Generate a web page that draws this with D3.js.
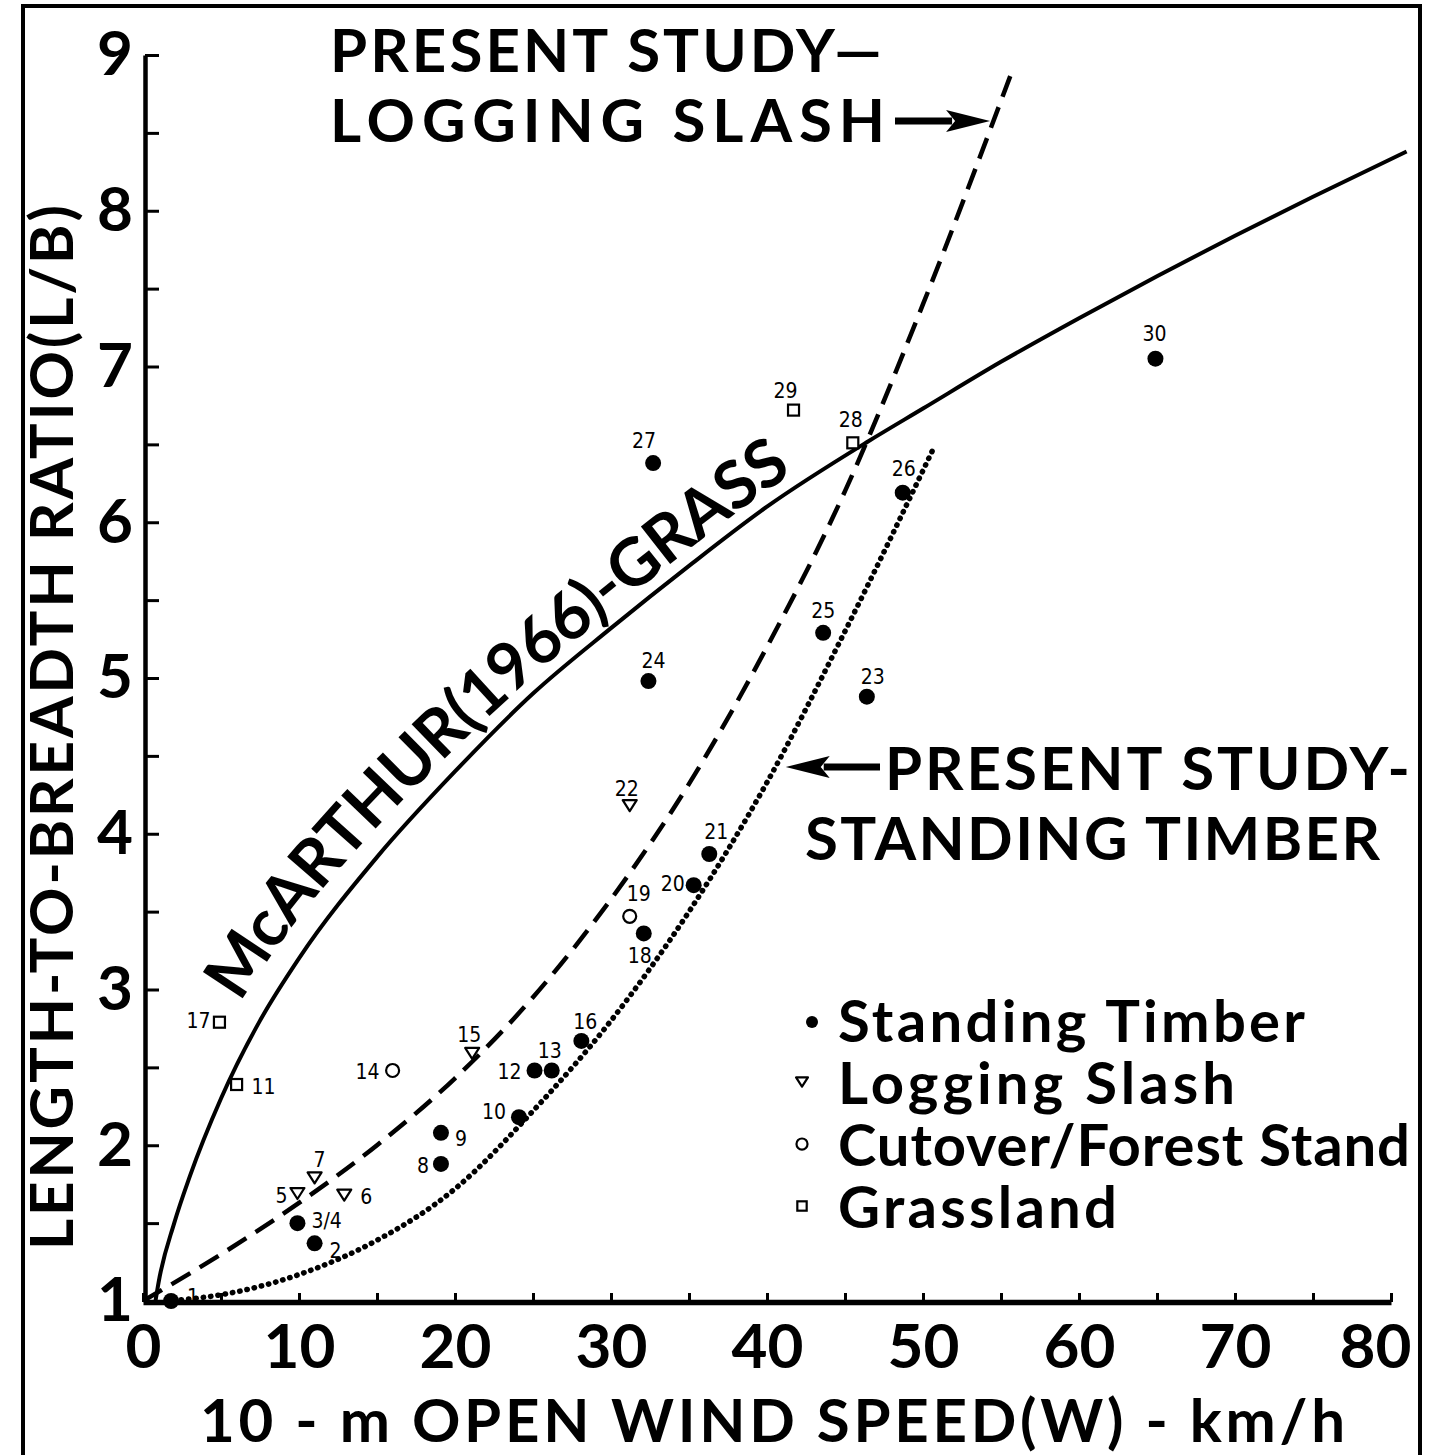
<!DOCTYPE html>
<html>
<head>
<meta charset="utf-8">
<script src="https://cdn.jsdelivr.net/npm/d3@7"></script>
<style>
  body { margin: 0; background: #fff; }
</style>
</head>
<body>
<div id="chart"></div>
<script>
// observed fires (number, open wind speed km/h, L/B, fuel type)
const fireIds = ["1","2","3/4","5","6","7","8","9","10","11","12","13","14","15","16","17","18","19","20","21","22","23","24","25","26","27","28","29","30"];
const fireWind = [1.8,11.0,9.9,9.9,12.9,11.0,19.1,19.1,24.1,6.0,25.1,26.2,16.0,21.1,28.1,4.9,32.1,31.2,35.3,36.3,31.2,46.4,32.4,43.6,48.7,32.7,45.5,41.7,64.9];
const fireLB = [1.0,1.37,1.5,1.69,1.68,1.79,1.88,2.08,2.18,2.39,2.48,2.48,2.48,2.59,2.67,2.79,3.36,3.47,3.67,3.87,4.18,4.88,4.98,5.29,6.19,6.38,6.51,6.72,7.05];
const fireType = ["timber","timber","timber","slash","slash","slash","timber","timber","timber","grass","timber","timber","cutover","slash","timber","grass","timber","cutover","timber","timber","slash","timber","timber","timber","timber","timber","grass","grass","timber"];

// McArthur (1966) grass curve
const grassW  = [0.8,1,2,3,5,7.5,10,15,20,25,30,35,40,46.5,50,55,60,65,70,75,81];
const grassLB = [1.0,1.12,1.5,1.8,2.3,2.8,3.2,3.85,4.4,4.9,5.32,5.72,6.1,6.52,6.73,7.03,7.31,7.58,7.84,8.09,8.38];

// present study - logging slash (dashed)
const slashW  = [0,5,10,15,20,25,30,35,40,45,50,55.8];
const slashLB = [1,1.3,1.63,2.0,2.43,2.95,3.58,4.32,5.2,6.2,7.4,8.92];

// present study - standing timber (dotted)
const timberW  = [1.5,5,10,15,20,25,30,35,40,45,50.7];
const timberLB = [1.0,1.04,1.17,1.39,1.72,2.22,2.8,3.5,4.33,5.3,6.48];

const legendLabels = ["Standing Timber","Logging Slash","Cutover/Forest Stand","Grassland"];
const legendTypes = ["timber","slash","cutover","grass"];

const xTicks = [0,5,10,15,20,25,30,35,40,45,50,55,60,65,70,75,80];
const yTicks = [1,1.5,2,2.5,3,3.5,4,4.5,5,5.5,6,6.5,7,7.5,8,8.5,9];

const FONT = "Lato, 'DejaVu Sans', sans-serif";
const SMALL = "'DejaVu Sans Condensed', 'DejaVu Sans', sans-serif";

const width = 1437, height = 1455;
const x = d3.scaleLinear().domain([0, 80]).range([143, 1391]);
const y = d3.scaleLinear().domain([1, 9]).range([1301, 55]);

const svg = d3.select("#chart").append("svg")
  .attr("width", width)
  .attr("height", height)
  .style("background", "#fff");

// outer frame
svg.append("rect")
  .attr("x", 23).attr("y", 6)
  .attr("width", 1397).attr("height", 1480)
  .attr("fill", "none").attr("stroke", "#000").attr("stroke-width", 4);

// ---- curves ----
const line = d3.line().x(d => x(d[0])).y(d => y(d[1])).curve(d3.curveMonotoneX);

const grassPts = grassW.map((w, i) => [w, grassLB[i]]);
const slashPts = slashW.map((w, i) => [w, slashLB[i]]);
const timberPts = timberW.map((w, i) => [w, timberLB[i]]);

const grassPath = svg.append("path")
  .attr("d", line(grassPts))
  .attr("fill", "none").attr("stroke", "#000").attr("stroke-width", 4);

svg.append("path")
  .attr("d", line(slashPts))
  .attr("fill", "none").attr("stroke", "#000").attr("stroke-width", 4.5)
  .attr("stroke-dasharray", "22,11");

svg.append("path")
  .attr("d", line(timberPts))
  .attr("fill", "none").attr("stroke", "#000").attr("stroke-width", 5.5)
  .attr("stroke-linecap", "round")
  .attr("stroke-dasharray", "0.4,7");

// text along McArthur curve, offset to the upper-left side
const gNode = grassPath.node();
const total = gNode.getTotalLength();
const offPts = [];
for (let l = 0; l <= total; l += 3) {
  const p = gNode.getPointAtLength(l);
  const q = gNode.getPointAtLength(Math.min(total, l + 2));
  const r = gNode.getPointAtLength(Math.max(0, l - 2));
  let tx = q.x - r.x, ty = q.y - r.y;
  const n = Math.hypot(tx, ty) || 1;
  tx /= n; ty /= n;
  const off = 13 + 13 * Math.max(0, Math.min(1, (520 - p.x) / 260));
  offPts.push([p.x + off * ty, p.y - off * tx]);
}
let acc = 0, startLen = null, endLen = null;
for (let i = 1; i < offPts.length; i++) {
  acc += Math.hypot(offPts[i][0] - offPts[i-1][0], offPts[i][1] - offPts[i-1][1]);
  if (startLen === null && offPts[i][1] <= 1004) startLen = acc;
  if (endLen === null && offPts[i][0] >= 792) endLen = acc;
}
svg.append("defs").append("path")
  .attr("id", "mcPath")
  .attr("d", d3.line()(offPts));

svg.append("text")
  .attr("font-family", FONT).attr("font-size", 66).attr("font-weight", 700)
  .append("textPath")
  .attr("href", "#mcPath")
  .attr("startOffset", startLen)
  .attr("textLength", endLen - startLen)
  .attr("lengthAdjust", "spacing")
  .text("McARTHUR(1966)-GRASS");

// ---- observed points ----
const labelPlace = {
  "1": [16, -4, "start"], "2": [15, 8, "start"], "3/4": [14, -2, "start"],
  "5": [-10, 2, "end"], "6": [16, 2, "start"], "7": [5, -18, "middle"],
  "8": [-12, 2, "end"], "9": [14, 6, "start"], "10": [-13, -5, "end"],
  "11": [15, 2, "start"], "12": [-13, 2, "end"], "13": [-2, -19, "middle"],
  "14": [-13, 2, "end"], "15": [-3, -18, "middle"], "16": [4, -19, "middle"],
  "17": [-9, -1, "end"], "18": [-4, 23, "middle"], "19": [9, -22, "middle"],
  "20": [-9, -1, "end"], "21": [7, -22, "middle"], "22": [-3, -17, "middle"],
  "23": [6, -20, "middle"], "24": [5, -20, "middle"], "25": [0, -22, "middle"],
  "26": [1, -24, "middle"], "27": [-9, -22, "middle"], "28": [-2, -23, "middle"],
  "29": [-8, -19, "middle"], "30": [-1, -25, "middle"]
};

function drawSymbol(g, type, cx, cy, s) {
  if (type === "timber") {
    g.append("circle").attr("cx", cx).attr("cy", cy).attr("r", 8 * s).attr("fill", "#000");
  } else if (type === "cutover") {
    g.append("circle").attr("cx", cx).attr("cy", cy).attr("r", 6.5 * s)
      .attr("fill", "#fff").attr("stroke", "#000").attr("stroke-width", 2.2);
  } else if (type === "grass") {
    const h = 5.5 * s;
    g.append("rect").attr("x", cx - h).attr("y", cy - h).attr("width", 2 * h).attr("height", 2 * h)
      .attr("fill", "#fff").attr("stroke", "#000").attr("stroke-width", 2.2);
  } else {
    const w = 7 * s, hh = 5.5 * s;
    g.append("path")
      .attr("d", `M${cx - w},${cy - hh}L${cx + w},${cy - hh}L${cx},${cy + hh}Z`)
      .attr("fill", "#fff").attr("stroke", "#000").attr("stroke-width", 2.2)
      .attr("stroke-linejoin", "round");
  }
}

const gPts = svg.append("g");
fireIds.forEach((id, i) => {
  const cx = x(fireWind[i]), cy = y(fireLB[i]);
  drawSymbol(gPts, fireType[i], cx, cy, 1);
  const lp = labelPlace[id];
  gPts.append("text")
    .attr("x", cx + lp[0]).attr("y", cy + lp[1])
    .attr("dominant-baseline", "central")
    .attr("text-anchor", lp[2])
    .attr("font-family", SMALL).attr("font-size", 21)
    .text(id);
});

// ---- axes ----
const yAxis = d3.axisLeft(y)
  .tickValues(yTicks)
  .tickSizeInner(-14).tickSizeOuter(0).tickPadding(12)
  .tickFormat(d => Number.isInteger(d) ? d : "");
const gy = svg.append("g").attr("transform", "translate(145,0)").call(yAxis);
gy.select(".domain").attr("stroke-width", 4.5);
gy.selectAll(".tick line").attr("stroke-width", 3);
gy.selectAll(".tick text")
  .attr("font-family", FONT).attr("font-size", 62).attr("font-weight", 700)
  .attr("fill", "#000");

const xAxis = d3.axisBottom(x)
  .tickValues(xTicks)
  .tickSizeInner(-9).tickSizeOuter(0).tickPadding(22)
  .tickFormat(d => d % 10 === 0 ? d : "");
const gx = svg.append("g").attr("transform", "translate(0,1302)").call(xAxis);
gx.select(".domain").attr("stroke-width", 5.5);
gx.selectAll(".tick line").attr("stroke-width", 3);
gx.selectAll(".tick text")
  .attr("font-family", FONT).attr("font-size", 62).attr("font-weight", 700)
  .attr("fill", "#000");
// last label kept inside the frame, as in the original
gx.selectAll(".tick text").filter(d => d === 80).attr("text-anchor", "end").attr("x", 20);

// axis titles
svg.append("text")
  .attr("x", 200).attr("y", 1442)
  .attr("font-family", FONT).attr("font-size", 60).attr("font-weight", 700)
  .attr("textLength", 1145).attr("lengthAdjust", "spacing")
  .text("10 - m OPEN WIND SPEED(W) - km/h");

svg.append("text")
  .attr("transform", "translate(73,1250) rotate(-90)")
  .attr("font-family", FONT).attr("font-size", 60).attr("font-weight", 700)
  .attr("textLength", 1045).attr("lengthAdjust", "spacing")
  .text("LENGTH-TO-BREADTH RATIO(L/B)");

// ---- annotations ----
const ann = svg.append("g").attr("font-family", FONT).attr("font-weight", 700).attr("font-size", 60);
ann.append("text").attr("x", 330).attr("y", 72)
  .attr("textLength", 552).attr("lengthAdjust", "spacing").text("PRESENT STUDY—");
ann.append("text").attr("x", 330).attr("y", 142)
  .attr("textLength", 555).attr("lengthAdjust", "spacing").text("LOGGING SLASH");
ann.append("text").attr("x", 885).attr("y", 790)
  .attr("textLength", 525).attr("lengthAdjust", "spacing").text("PRESENT STUDY-");
ann.append("text").attr("x", 805).attr("y", 860)
  .attr("textLength", 575).attr("lengthAdjust", "spacing").text("STANDING TIMBER");

function arrow(x0, x1, yy) {
  const dir = Math.sign(x1 - x0);
  const base = x1 - dir * 44;
  svg.append("line").attr("x1", x0).attr("x2", base + dir * 6).attr("y1", yy).attr("y2", yy)
    .attr("stroke", "#000").attr("stroke-width", 7);
  svg.append("path")
    .attr("d", `M${x1},${yy}L${base},${yy - 11}L${base + dir * 9},${yy}L${base},${yy + 11}Z`)
    .attr("fill", "#000");
}
arrow(895, x(54.3), 121);
arrow(880, x(41.2), 767);

// ---- legend ----
const lg = svg.append("g");
legendLabels.forEach((lab, i) => {
  const yy = 1042 + i * 62;
  if (legendTypes[i] === "timber") {
    lg.append("circle").attr("cx", 812).attr("cy", yy - 20).attr("r", 6).attr("fill", "#000");
  } else {
    drawSymbol(lg, legendTypes[i], 802, yy - 22, 0.85);
  }
  lg.append("text")
    .attr("x", 838).attr("y", yy)
    .attr("font-family", FONT).attr("font-size", 58).attr("font-weight", 700)
    .attr("textLength", [467, 397, 572, 279][i]).attr("lengthAdjust", "spacing")
    .text(lab);
});
</script>
</body>
</html>
